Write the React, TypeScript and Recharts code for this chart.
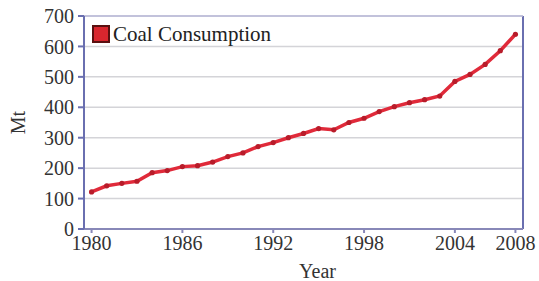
import React from "react";
import { LineChart, Line, XAxis, YAxis, CartesianGrid, Label, ReferenceLine } from "recharts";

const years = [1980, 1981, 1982, 1983, 1984, 1985, 1986, 1987, 1988, 1989, 1990, 1991, 1992, 1993, 1994, 1995, 1996, 1997, 1998, 1999, 2000, 2001, 2002, 2003, 2004, 2005, 2006, 2007, 2008];
const coal = [122, 142, 150, 157, 185, 192, 205, 208, 220, 238, 250, 271, 284, 300, 314, 330, 326, 350, 364, 386, 402, 415, 425, 437, 485, 508, 541, 586, 640];
const xTicks = [1980, 1986, 1992, 1998, 2004, 2008];
const yTicks = [0, 100, 200, 300, 400, 500, 600, 700];

const data = years.map((y, i) => ({ year: y, coal: coal[i] }));

const FONT = "'Liberation Serif', 'Times New Roman', serif";

const Dot = (props: any) => {
  const { cx, cy } = props;
  if (cx == null || cy == null) return null;
  return <circle cx={cx} cy={cy} r={2.6} fill="#b81c2a" stroke="none" />;
};

export default function App() {
  return (
    <div style={{ position: "absolute", left: 0, top: 0, width: 539, height: 281, background: "#fff" }}>
      <LineChart width={539} height={281} data={data} margin={{ top: 16, right: 16, left: 0, bottom: 0 }}>
        <CartesianGrid vertical={false} stroke="#d4d4d8" strokeWidth={1.5} />
        <XAxis
          dataKey="year"
          type="number"
          domain={[1979.5, 2008.5]}
          ticks={xTicks}
          height={52}
          tickSize={4}
          tickMargin={3}
          stroke="#8888b8"
          strokeWidth={2}
          tick={{ fontFamily: FONT, fontSize: 20, fill: "#333" }}
        >
          <Label value="Year" position="insideBottom" offset={3} dx={14} style={{ fontFamily: FONT, fontSize: 20, fill: "#333" }} />
        </XAxis>
        <YAxis
          domain={[0, 700]}
          ticks={yTicks}
          width={84}
          tickSize={6}
          tickMargin={4}
          stroke="#6a6fb0"
          strokeWidth={2}
          tick={{ fontFamily: FONT, fontSize: 20, fill: "#333" }}
        >
          <Label value="Mt" angle={-90} position="insideLeft" offset={18} style={{ fontFamily: FONT, fontSize: 20, fill: "#333", textAnchor: "middle" }} />
        </YAxis>
        <ReferenceLine x={2008.5} stroke="#6a6fb0" strokeWidth={2} />
        <ReferenceLine y={700} stroke="#b8b8d8" strokeWidth={1.5} />
        <Line
          type="linear"
          dataKey="coal"
          stroke="#e02a3a"
          strokeWidth={3.5}
          dot={<Dot />}
          isAnimationActive={false}
        />
      </LineChart>
      <div style={{ position: "absolute", left: 92, top: 22, display: "flex", alignItems: "center", fontFamily: FONT, fontSize: 21, color: "#222", lineHeight: "24px" }}>
        <span style={{ display: "inline-block", width: 14, height: 14, background: "#d8262e", border: "2px solid #5a1010", marginRight: 3 }} />
        <span>Coal Consumption</span>
      </div>
    </div>
  );
}
